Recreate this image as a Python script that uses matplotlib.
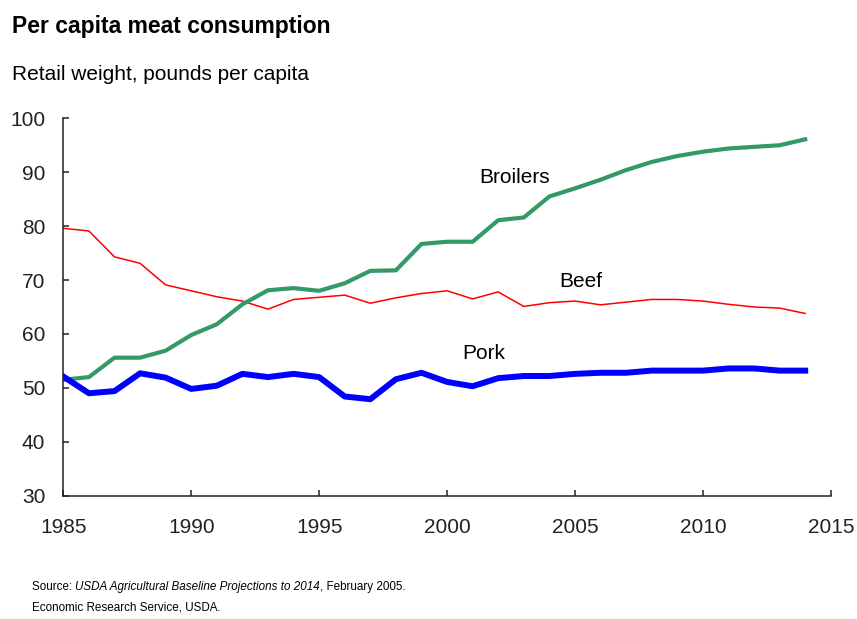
import matplotlib
matplotlib.use("Agg")
import matplotlib.pyplot as plt

plt.rcParams['font.family'] = ['Liberation Sans', 'DejaVu Sans']

years = list(range(1985, 2015))
broilers = [51.5, 52.0, 55.6, 55.6, 56.9, 59.8, 61.8, 65.5, 68.1, 68.5,
            68.0, 69.4, 71.7, 71.8, 76.7, 77.1, 77.1, 81.1, 81.6, 85.5,
            87.0, 88.6, 90.4, 91.9, 93.0, 93.8, 94.4, 94.7, 95.0, 96.1]
beef = [79.6, 79.1, 74.3, 73.1, 69.1, 68.0, 66.9, 66.1, 64.6, 66.4,
        66.8, 67.2, 65.7, 66.7, 67.5, 68.0, 66.5, 67.8, 65.1, 65.8,
        66.1, 65.4, 65.9, 66.4, 66.4, 66.1, 65.5, 65.0, 64.8, 63.8]
pork = [52.1, 49.0, 49.4, 52.7, 51.9, 49.8, 50.4, 52.6, 52.0, 52.6,
        52.0, 48.4, 47.9, 51.6, 52.8, 51.1, 50.3, 51.8, 52.2, 52.2,
        52.6, 52.8, 52.8, 53.2, 53.2, 53.2, 53.6, 53.6, 53.2, 53.2]

fig = plt.figure(figsize=(8.57, 6.19), dpi=100)
ax = fig.add_axes([0.0739, 0.1992, 0.8955, 0.6097])

ax.plot(years, beef, color='#ff0000', lw=1.1)
ax.plot(years, broilers, color='#339966', lw=3.0)
ax.plot(years, pork, color='#0000ff', lw=4.3)

ax.set_xlim(1985, 2015)
ax.set_ylim(30, 100)
ax.set_xticks(range(1985, 2016, 5))
ax.set_yticks(range(30, 101, 10))
for s in ['top', 'right']:
    ax.spines[s].set_visible(False)
for s in ['left', 'bottom']:
    ax.spines[s].set_linewidth(1.1)
    ax.spines[s].set_color('#222222')
ax.tick_params(axis='both', direction='in', length=4, width=1.1,
               labelsize=15, colors='#222222')
ax.tick_params(axis='y', pad=13)
ax.tick_params(axis='x', pad=16)

ax.text(2001.25, 89.1, 'Broilers', fontsize=15, va='center')
ax.text(2004.4, 69.8, 'Beef', fontsize=15, va='center')
ax.text(2000.6, 56.4, 'Pork', fontsize=15, va='center')

fig.text(12 / 857, 1 - 26 / 619, 'Per capita meat consumption',
         fontsize=16.5, fontweight='bold', va='center')
fig.text(12 / 857, 1 - 75 / 619, 'Retail weight, pounds per capita',
         fontsize=15, va='center')

# source line with italic title, placed piece by piece
fig.canvas.draw()
r = fig.canvas.get_renderer()
x = 32
for txt, style in [('Source: ', 'normal'),
                   ('USDA Agricultural Baseline Projections to 2014', 'italic'),
                   (', February 2005.', 'normal')]:
    t = fig.text(x / 857, 1 - 587 / 619, txt, fontsize=8.4, style=style,
                 va='center')
    x += t.get_window_extent(r).width
fig.text(32 / 857, 1 - 608 / 619, 'Economic Research Service, USDA.',
         fontsize=8.4, va='center')

fig.savefig('out.png', dpi=100)
